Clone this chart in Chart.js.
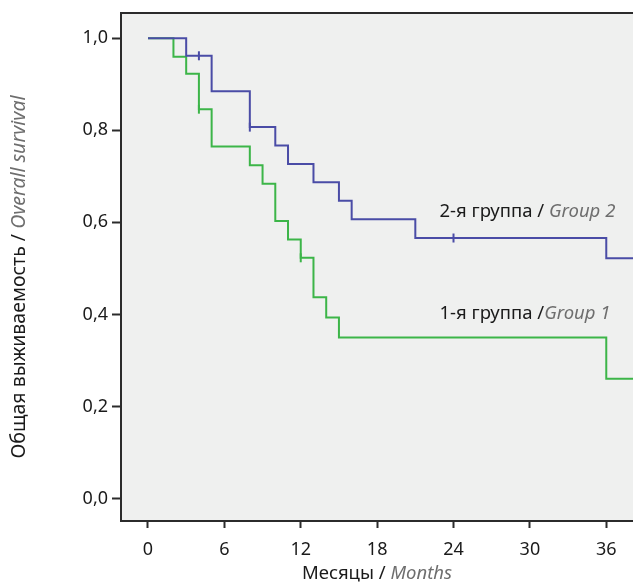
<!DOCTYPE html>
<html>
<head>
<meta charset="utf-8">
<script src="https://cdn.jsdelivr.net/npm/chart.js@4"></script>
<style>
  body { margin: 0; background: #fff; overflow: hidden; }
  #wrap { width: 633px; height: 585px; }
  canvas { display: block; }
</style>
</head>
<body>
<div id="wrap"><canvas id="km" width="633" height="585"></canvas></div>
<script>
// tick values
const xTicks = [0, 6, 12, 18, 24, 30, 36];
const yTicks = [0, 0.2, 0.4, 0.6, 0.8, 1.0];

// Kaplan-Meier steps: [month, survival]
const group2 = [[0, 1], [3, 0.962], [5, 0.885], [8, 0.807], [10, 0.767], [11, 0.727], [13, 0.687],
  [15, 0.647], [16, 0.607], [21, 0.566], [36, 0.522], [40, 0.522]];
const group1 = [[0, 1], [2, 0.96], [3, 0.923], [4, 0.846], [5, 0.765], [8, 0.724], [9, 0.684],
  [10, 0.603], [11, 0.563], [12, 0.523], [13, 0.437], [14, 0.393], [15, 0.35], [36, 0.26], [40, 0.26]];

// censored cases
const censor2 = [[4, 0.962], [8, 0.807], [24, 0.566]];
const censor1 = [[4, 0.846], [12, 0.523]];

// curve labels
const labels = [
  { x: 22.9, y: 0.623, main: "2-я группа / ", alt: "Group 2" },
  { x: 22.9, y: 0.401, main: "1-я группа /", alt: "Group 1" }
];

const blue = "#4a4ca6";
const green = "#3cb548";
const font = "'Noto Sans', sans-serif";

const toXY = arr => arr.map(p => ({ x: p[0], y: p[1] }));

const frame = {
  id: "frame",
  beforeDraw(c) {
    const a = c.chartArea, ctx = c.ctx;
    ctx.save();
    ctx.fillStyle = "#eff0ef";
    ctx.fillRect(a.left, a.top, a.right - a.left, a.bottom - a.top);
    ctx.restore();
  },
  afterDraw(c) {
    const a = c.chartArea, ctx = c.ctx;
    const xs = c.scales.x, ys = c.scales.y;
    ctx.save();
    ctx.strokeStyle = "#2b2b2b";
    ctx.lineWidth = 2;
    ctx.beginPath();
    ctx.moveTo(a.right + 2, a.top);
    ctx.lineTo(a.left, a.top);
    ctx.lineTo(a.left, a.bottom);
    ctx.lineTo(a.right + 2, a.bottom);
    ctx.stroke();

    // curve labels
    ctx.textBaseline = "middle";
    labels.forEach(l => {
      const px = xs.getPixelForValue(l.x), py = ys.getPixelForValue(l.y);
      ctx.font = "18.5px " + font;
      ctx.fillStyle = "#1a1a1a";
      ctx.fillText(l.main, px, py);
      const w = ctx.measureText(l.main).width;
      ctx.font = "italic 18.5px " + font;
      ctx.fillStyle = "#6e6e6e";
      ctx.fillText(l.alt, px + w, py);
    });

    // axis titles
    const drawTitle = (main, alt, cx, cy, size) => {
      ctx.font = size + "px " + font;
      const w1 = ctx.measureText(main).width;
      ctx.font = "italic " + size + "px " + font;
      const w2 = ctx.measureText(alt).width;
      const x0 = cx - (w1 + w2) / 2;
      ctx.font = size + "px " + font;
      ctx.fillStyle = "#1a1a1a";
      ctx.fillText(main, x0, cy);
      ctx.font = "italic " + size + "px " + font;
      ctx.fillStyle = "#6e6e6e";
      ctx.fillText(alt, x0 + w1, cy);
    };
    drawTitle("Месяцы / ", "Months", (a.left + a.right) / 2, 574, 18.5);
    ctx.translate(19, 277);
    ctx.rotate(-Math.PI / 2);
    drawTitle("Общая выживаемость / ", "Overall survival", 0, 0, 19.5);
    ctx.restore();
  }
};

new Chart(document.getElementById("km"), {
  type: "line",
  data: {
    datasets: [
      { data: toXY(group2), borderColor: blue, borderWidth: 2, stepped: true, pointRadius: 0 },
      { data: toXY(group1), borderColor: green, borderWidth: 2, stepped: true, pointRadius: 0 },
      { data: toXY(censor2), showLine: false, pointStyle: "line", rotation: 90, pointRadius: 4.5,
        borderColor: blue, borderWidth: 2 },
      { data: toXY(censor1), showLine: false, pointStyle: "line", rotation: 90, pointRadius: 4.5,
        borderColor: green, borderWidth: 2 }
    ]
  },
  options: {
    responsive: false,
    animation: false,
    layout: { autoPadding: false, padding: { top: 13, right: 0, left: 0, bottom: 0 } },
    plugins: { legend: { display: false }, tooltip: { enabled: false } },
    scales: {
      x: {
        type: "linear",
        min: -2.12,
        max: 38.1,
        afterBuildTicks: s => { s.ticks = xTicks.map(v => ({ value: v })); },
        afterFit: s => { s.height = 64; s.paddingLeft = 0; s.paddingRight = 0; },
        grid: { drawOnChartArea: false, drawTicks: true, tickLength: 7, tickWidth: 2, color: "#2b2b2b" },
        border: { display: false },
        ticks: { color: "#1a1a1a", font: { family: font, size: 18 }, padding: 11 }
      },
      y: {
        min: -0.049,
        max: 1.055,
        afterBuildTicks: s => { s.ticks = yTicks.map(v => ({ value: v })); },
        afterFit: s => { s.width = 121; s.paddingTop = 0; s.paddingBottom = 0; },
        grid: { drawOnChartArea: false, drawTicks: true, tickLength: 9, tickWidth: 2, color: "#2b2b2b" },
        border: { display: false },
        ticks: {
          color: "#1a1a1a",
          font: { family: font, size: 18 },
          padding: 4,
          callback: v => v.toFixed(1).replace(".", ",")
        }
      }
    }
  },
  plugins: [frame]
});
</script>
</body>
</html>
